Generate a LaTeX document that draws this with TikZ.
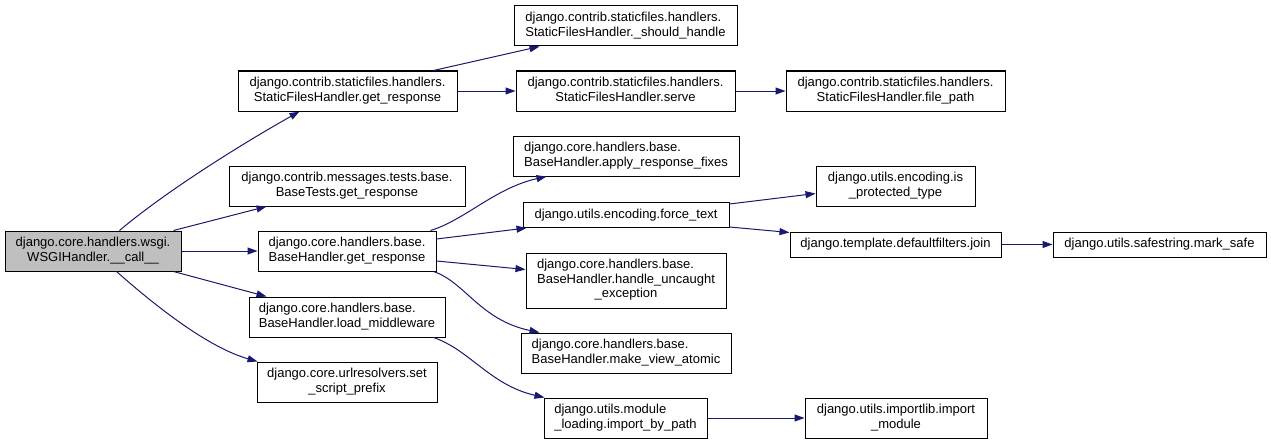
\documentclass[tikz,border=0pt]{standalone}
\usepackage{fontspec}
\setmainfont{Liberation Sans}
\usetikzlibrary{arrows.meta}
\definecolor{edgecol}{HTML}{191970}
\definecolor{maingray}{HTML}{BFBFBF}
\newcommand{\Lft}[1]{\multicolumn{1}{@{}l@{}}{#1}}
\newcommand{\lbl}[1]{\begin{tabular}{@{}c@{}}#1\end{tabular}}
\begin{document}
\begin{tikzpicture}[x=1pt,y=-1pt,
  box/.style={draw=black, line width=1pt, fill=white, inner sep=0pt,
    minimum height=40pt, font=\fontsize{13}{14.5}\selectfont},
  edge/.style={draw=edgecol, line width=1pt, -{Triangle[length=10pt,width=7pt]}}]
\fill[white] (0,0) rectangle (1271,444);
\useasboundingbox (0,0) rectangle (1271,444);

\node[box, fill=maingray, minimum width=176pt] (main) at (93,251) {\lbl{\Lft{django.core.handlers.wsgi.}\\WSGIHandler.\_\_call\_\_}};
\node[box, minimum width=219pt] (sfhget) at (347.5,91) {\lbl{\Lft{django.contrib.staticfiles.handlers.}\\StaticFilesHandler.get\_response}};
\node[box, minimum width=236pt] (basetests) at (347,186) {\lbl{\Lft{django.contrib.messages.tests.base.}\\BaseTests.get\_response}};
\node[box, minimum width=178pt] (bhget) at (347,251) {\lbl{\Lft{django.core.handlers.base.}\\BaseHandler.get\_response}};
\node[box, minimum width=196pt] (loadmw) at (347,317) {\lbl{\Lft{django.core.handlers.base.}\\BaseHandler.load\_middleware}};
\node[box, minimum width=180pt] (setsp) at (347,382) {\lbl{\Lft{django.core.urlresolvers.set}\\\_script\_prefix}};

\node[box, minimum width=223pt] (should) at (625.5,26) {\lbl{\Lft{django.contrib.staticfiles.handlers.}\\StaticFilesHandler.\_should\_handle}};
\node[box, minimum width=219pt] (serve) at (625.5,91) {\lbl{\Lft{django.contrib.staticfiles.handlers.}\\StaticFilesHandler.serve}};
\node[box, minimum width=219pt] (filepath) at (895.5,91) {\lbl{\Lft{django.contrib.staticfiles.handlers.}\\StaticFilesHandler.file\_path}};
\node[box, minimum width=226pt] (applyfix) at (626,156) {\lbl{\Lft{django.core.handlers.base.}\\BaseHandler.apply\_response\_fixes}};
\node[box, minimum width=206pt, minimum height=25pt] (forcetext) at (626,215) {django.utils.encoding.force\_text};
\node[box, minimum width=159pt] (isprot) at (895.5,186) {\lbl{\Lft{django.utils.encoding.is}\\\_protected\_type}};
\node[box, minimum width=211pt, minimum height=25pt] (join) at (895.5,244.5) {django.template.defaultfilters.join};
\node[box, minimum width=213pt, minimum height=25pt] (marksafe) at (1159.5,244.5) {django.utils.safestring.mark\_safe};
\node[box, minimum width=200pt, minimum height=55pt] (handleunc) at (626,280.5) {\lbl{\Lft{django.core.handlers.base.}\\\Lft{BaseHandler.handle\_uncaught}\\\_exception}};
\node[box, minimum width=210pt] (makeview) at (626,353) {\lbl{\Lft{django.core.handlers.base.}\\BaseHandler.make\_view\_atomic}};
\node[box, minimum width=163pt] (importby) at (625.5,418) {\lbl{\Lft{django.utils.module}\\\_loading.import\_by\_path}};
\node[box, minimum width=182pt] (importmod) at (896,418) {\lbl{\Lft{django.utils.importlib.import}\\\_module}};

% edges from main
\draw[edge] ([xshift=115pt]main.north west) .. controls (165,192) and (240,145) .. ([xshift=62pt]sfhget.south west);
\draw[edge] ([xshift=-8pt]main.north east) -- ([xshift=38pt]basetests.south west);
\draw[edge] (main.east) -- (bhget.west);
\draw[edge] ([xshift=-8pt]main.south east) -- ([xshift=18pt]loadmw.north west);
\draw[edge] ([xshift=112pt]main.south west) .. controls (160,310) and (210,348) .. ([xshift=1pt]setsp.north west);

% static files
\draw[edge] ([xshift=-24pt]sfhget.north east) -- ([xshift=26pt]should.south west);
\draw[edge] (sfhget.east) -- (serve.west);
\draw[edge] (serve.east) -- (filepath.west);

% base handler get_response
\draw[edge] ([xshift=-6pt]bhget.north east) .. controls (465,220) and (495,188) .. ([xshift=34pt]applyfix.south west);
\draw[edge] ([yshift=12pt]bhget.east) -- ([xshift=4pt]forcetext.south west);
\draw[edge] ([yshift=-10pt]bhget.east) -- ([yshift=-17pt]handleunc.north west);
\draw[edge] ([xshift=-3pt]bhget.south east) .. controls (465,282) and (480,320) .. ([xshift=19pt]makeview.north west);

% load middleware
\draw[edge] ([xshift=-12pt]loadmw.south east) .. controls (470,350) and (490,385) .. ([xshift=1pt]importby.north west);

% force_text
\draw[edge] ([yshift=-2pt]forcetext.north east) -- ([yshift=-28pt]isprot.north west);
\draw[edge] ([yshift=1pt]forcetext.south east) -- ([yshift=-1pt]join.north west);
\draw[edge] (join.east) -- (marksafe.west);
\draw[edge] (importby.east) -- (importmod.west);
\end{tikzpicture}
\end{document}
